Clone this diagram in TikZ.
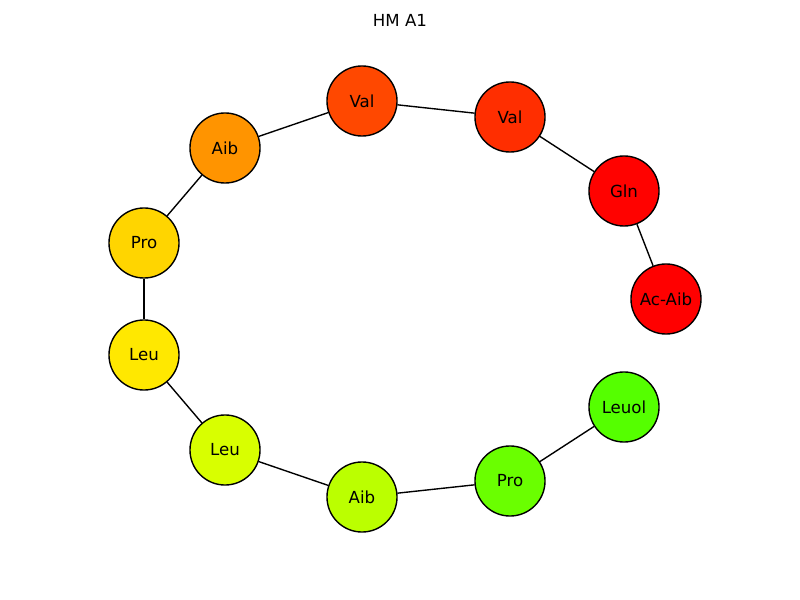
\documentclass[tikz,border=0pt]{standalone}
\usepackage{fontspec}
\setmainfont{DejaVu Sans}
\definecolor{cAcAib}{HTML}{FF0000}
\definecolor{cGln}{HTML}{FF0200}
\definecolor{cValB}{HTML}{FF2E00}
\definecolor{cValA}{HTML}{FF4800}
\definecolor{cAibA}{HTML}{FF9400}
\definecolor{cProA}{HTML}{FFD500}
\definecolor{cLeuA}{HTML}{FFE800}
\definecolor{cLeuB}{HTML}{D8FF00}
\definecolor{cAibB}{HTML}{BBFF00}
\definecolor{cProB}{HTML}{6AFF00}
\definecolor{cLeuol}{HTML}{55FF00}
\tikzset{
  res/.style={circle, draw=black, line width=1pt, minimum size=0.7in, inner sep=0pt, font=\fontsize{12}{14}\selectfont, text=black},
  bond/.style={draw=black, line width=1pt}
}
\begin{document}
\begin{tikzpicture}[x=0.01in, y=-0.01in]
\useasboundingbox (0,0) rectangle (800,600);
\node[font=\fontsize{12}{14}\selectfont] (title) at (400,20) {HM A1};
\node[res, fill=cAcAib] (n1) at (666,299) {Ac-Aib};
\node[res, fill=cGln] (n2) at (624,191) {Gln};
\node[res, fill=cValB] (n3) at (510,117) {Val};
\node[res, fill=cValA] (n4) at (362,101) {Val};
\node[res, fill=cAibA] (n5) at (225,148) {Aib};
\node[res, fill=cProA] (n6) at (144,243) {Pro};
\node[res, fill=cLeuA] (n7) at (144,355) {Leu};
\node[res, fill=cLeuB] (n8) at (225,450) {Leu};
\node[res, fill=cAibB] (n9) at (362,497) {Aib};
\node[res, fill=cProB] (n10) at (510,481) {Pro};
\node[res, fill=cLeuol] (n11) at (624,407) {Leuol};
\begin{scope}[on background layer/.try]
\end{scope}
\draw[bond] (n1) -- (n2);
\draw[bond] (n2) -- (n3);
\draw[bond] (n3) -- (n4);
\draw[bond] (n4) -- (n5);
\draw[bond] (n5) -- (n6);
\draw[bond] (n6) -- (n7);
\draw[bond] (n7) -- (n8);
\draw[bond] (n8) -- (n9);
\draw[bond] (n9) -- (n10);
\draw[bond] (n10) -- (n11);
\end{tikzpicture}
\end{document}
